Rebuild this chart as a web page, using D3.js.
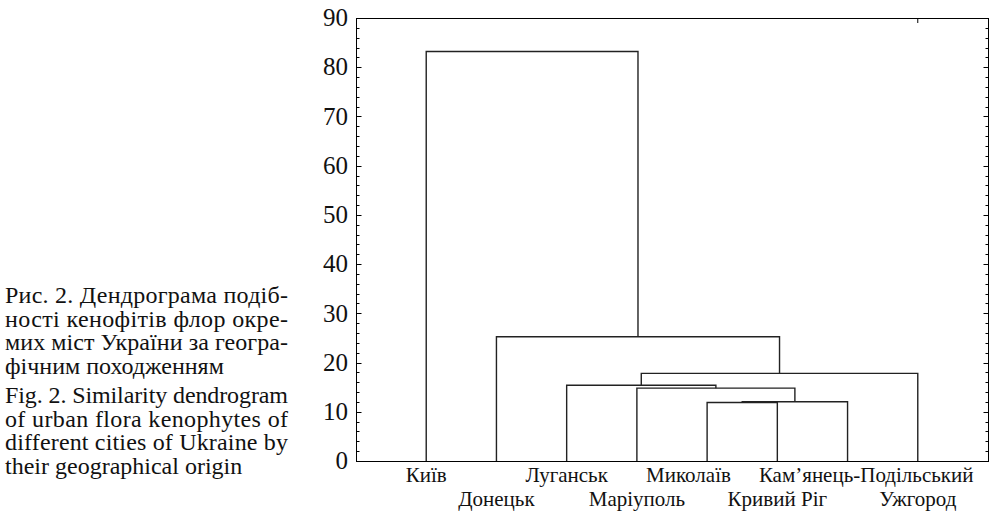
<!DOCTYPE html>
<html>
<head>
<meta charset="utf-8">
<script src="https://cdn.jsdelivr.net/npm/d3@7"></script>
<style>
  body { margin: 0; background: #fff; }
  svg { display: block; }
</style>
</head>
<body>
<svg id="chart" width="991" height="511"></svg>
<script>
// leaves in dendrogram order
const leaves = ['Київ', 'Донецьк', 'Луганськ', 'Маріуполь', 'Миколаїв', 'Кривий Ріг', 'Кам’янець-Подільський', 'Ужгород'];
// linkage: cluster ids 0..7 are leaves, each merge creates id 8, 9, ...
const mergeA = [4, 8, 3, 2, 11, 1, 0];
const mergeB = [5, 6, 9, 10, 7, 12, 13];
const mergeHeight = [11.9, 12.05, 14.8, 15.4, 17.8, 25.25, 83.2];
const yTicks = [0, 10, 20, 30, 40, 50, 60, 70, 80, 90];

const captionUk = ['Рис. 2. Дендрограма подіб-', 'ності кенофітів флор окре-', 'мих міст України за геогра-', 'фічним походженням'];
const captionEn = ['Fig. 2. Similarity dendrogram', 'of urban flora kenophytes of', 'different cities of Ukraine by', 'their geographical origin'];

const serif = "'Liberation Serif'";
const svg = d3.select('#chart');
const frame = { left: 356, right: 988, top: 18, bottom: 461 };

const x = d3.scalePoint()
  .domain(d3.range(leaves.length))
  .range([frame.left, frame.right])
  .padding(1);

const y = d3.scaleLinear()
  .domain([0, 90])
  .range([frame.bottom, frame.top]);

// frame
svg.append('rect')
  .attr('x', frame.left + 0.5).attr('y', frame.top + 0.5)
  .attr('width', frame.right - frame.left).attr('height', frame.bottom - frame.top)
  .attr('fill', 'none').attr('stroke', '#000').attr('stroke-width', 1);

// inner ticks, left and right (major every 10, minor every 2)
const minor = d3.range(0, 91, 2);
[[frame.left, 1], [frame.right, -1]].forEach(([x0, dir]) => {
  svg.append('g').selectAll('line')
    .data(minor)
    .join('line')
    .attr('x1', x0 + 0.5).attr('x2', d => x0 + 0.5 + dir * (d % 10 === 0 ? 5 : 3))
    .attr('y1', d => Math.round(y(d)) + 0.5).attr('y2', d => Math.round(y(d)) + 0.5)
    .attr('stroke', '#000').attr('stroke-width', 1);
});

// top tick at last leaf
svg.append('line')
  .attr('x1', x(leaves.length - 1)).attr('x2', x(leaves.length - 1))
  .attr('y1', frame.top).attr('y2', frame.top + 5)
  .attr('stroke', '#000');

// y tick labels
svg.append('g').selectAll('text')
  .data(yTicks)
  .join('text')
  .attr('x', frame.left - 8)
  .attr('y', d => y(d))
  .attr('dy', '0.33em')
  .attr('text-anchor', 'end')
  .attr('font-family', serif)
  .attr('font-size', 25)
  .attr('fill', '#111')
  .text(d => d);

// dendrogram
const nodeX = leaves.map((_, i) => x(i));
const nodeH = leaves.map(() => 0);
const links = [];
mergeA.forEach((a, i) => {
  const b = mergeB[i];
  const h = mergeHeight[i];
  links.push({ xa: nodeX[a], ha: nodeH[a], xb: nodeX[b], hb: nodeH[b], h });
  nodeX.push((nodeX[a] + nodeX[b]) / 2);
  nodeH.push(h);
});

svg.append('g').selectAll('path')
  .data(links)
  .join('path')
  .attr('d', d => `M${d.xa},${y(d.ha)}V${y(d.h)}H${d.xb}V${y(d.hb)}`)
  .attr('fill', 'none')
  .attr('stroke', '#222')
  .attr('stroke-width', 1.4);

// leaf labels, two staggered rows, pushed apart where they collide
const rowY = [482, 506];
const labels = svg.append('g').selectAll('text')
  .data(leaves.map((name, i) => ({ name, i, row: i % 2, cx: x(i) })))
  .join('text')
  .attr('y', d => rowY[d.row])
  .attr('text-anchor', 'middle')
  .attr('font-family', serif)
  .attr('font-size', 21)
  .attr('fill', '#111')
  .text(d => d.name);

labels.each(function (d) { d.w = this.getComputedTextLength(); });
const gap = 28;
[0, 1].forEach(row => {
  const items = labels.data().filter(d => d.row === row);
  for (let k = 0; k < 10; k++) {
    for (let j = 1; j < items.length; j++) {
      const l = items[j - 1], r = items[j];
      const over = (l.cx + l.w / 2 + gap) - (r.cx - r.w / 2);
      if (over > 0) { l.cx -= over / 2; r.cx += over / 2; }
    }
  }
});
labels.attr('x', d => d.cx);

// caption, justified like the printed page
const cap = { left: 5, right: 288, size: 24 };
function caption(lines, y0) {
  svg.append('g').selectAll('text')
    .data(lines)
    .join('text')
    .attr('x', cap.left)
    .attr('y', (d, i) => y0 + i * 23.5)
    .attr('font-family', serif)
    .attr('font-size', cap.size)
    .attr('fill', '#111')
    .each(function (d, i) {
      if (i < lines.length - 1) {
        d3.select(this).attr('textLength', cap.right - cap.left).attr('lengthAdjust', 'spacing');
      }
    })
    .text(d => d);
}
caption(captionUk, 303);
caption(captionEn, 403);
</script>
</body>
</html>
